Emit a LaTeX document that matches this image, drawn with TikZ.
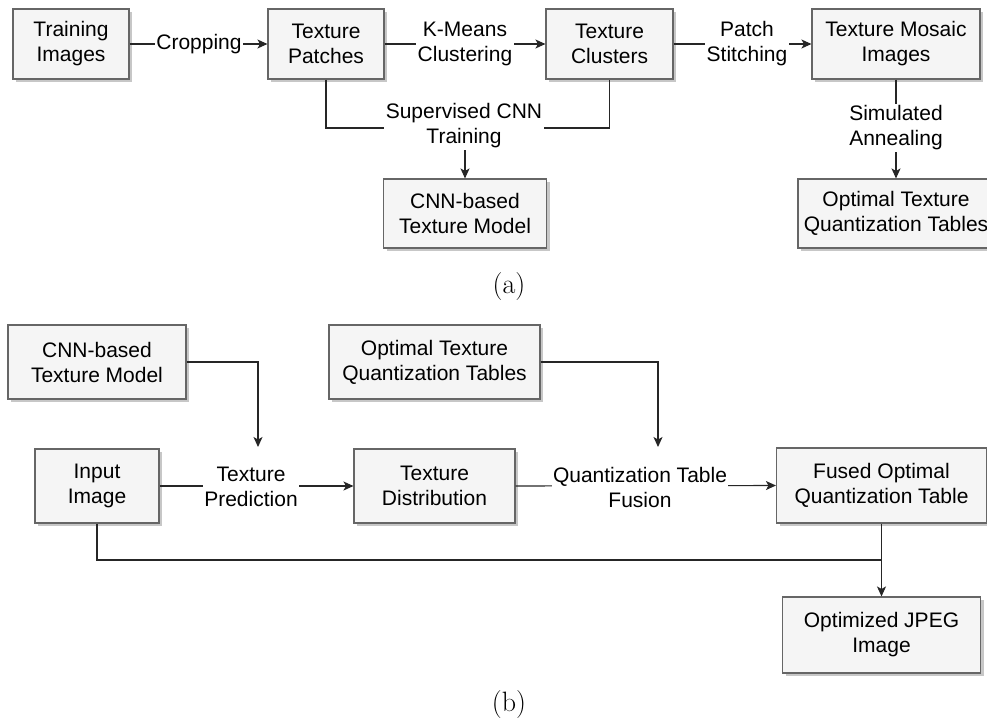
\documentclass[tikz,border=0pt]{standalone}
\usepackage{fontspec}
\setmainfont{Liberation Sans}
\newfontfamily\capfont{Latin Modern Roman}
\usetikzlibrary{arrows.meta,shadows}
\definecolor{boxfill}{HTML}{F5F5F5}
\definecolor{boxline}{HTML}{666666}
\begin{document}
\begin{tikzpicture}[x=1pt,y=-1pt,
  box/.style={draw=boxline, fill=boxfill, line width=1.1pt, align=center,
    font=\fontsize{21}{25}\selectfont, inner sep=2pt,
    drop shadow={shadow xshift=3pt, shadow yshift=-3pt, fill=black, opacity=0.22}},
  lbl/.style={fill=white, align=center, inner sep=1.5pt, font=\fontsize{21}{25}\selectfont},
  conn/.style={line width=1.1pt, draw=black!85},
  arr/.style={conn, -{Stealth[length=10pt,width=9pt,inset=2.5pt]}},
  captext/.style={font=\capfont\fontsize{28}{32}\selectfont}]
\useasboundingbox (0,0) rectangle (987,717);
\begin{scope}
\clip (0,0) rectangle (987,717);
% (a)
\node[box, minimum width=116pt, minimum height=70pt] (train) at (71,44) {Training\\Images};
\node[box, minimum width=116pt, minimum height=70pt] (patches) at (326,44) {Texture\\Patches};
\node[box, minimum width=127pt, minimum height=70pt] (clusters) at (609.5,44) {Texture\\Clusters};
\node[box, minimum width=168pt, minimum height=70pt] (mosaic) at (896,44) {Texture Mosaic\\Images};
\node[box, minimum width=163pt, minimum height=69pt] (cnnA) at (465,213.5) {CNN-based\\Texture Model};
\node[box, minimum width=196pt, minimum height=69pt] (optA) at (896,213.5) {Optimal Texture\\Quantization Tables};

\draw[arr] (train.east) -- (patches.west);
\draw[arr] (patches.east) -- (clusters.west);
\draw[arr] (clusters.east) -- (mosaic.west);
\coordinate (m) at (465,128);
\draw[conn] (patches.south) |- (m) -| (clusters.south);
\draw[arr] (m) -- (cnnA.north);
\draw[arr] (mosaic.south) -- (optA.north);

\node[lbl] (crop) at (199,44) {Cropping};
\node[lbl] (kmeans) at (465,44) {K-Means\\Clustering};
\node[lbl] (stitch) at (747,44) {Patch\\Stitching};
\node[lbl] (sup) at (464,126) {Supervised CNN\\Training};
\node[lbl] (anneal) at (896,128) {Simulated\\Annealing};

\node[captext] (capa) at (509,287) {(a)};

% (b)
\node[box, minimum width=178pt, minimum height=74pt] (cnnB) at (97,362) {CNN-based\\Texture Model};
\node[box, minimum width=211pt, minimum height=74pt] (optB) at (434.5,362) {Optimal Texture\\Quantization Tables};
\node[box, minimum width=124pt, minimum height=74pt] (input) at (97,486) {Input\\Image};
\node[box, minimum width=161pt, minimum height=74pt] (dist) at (434.5,486) {Texture\\Distribution};
\node[box, minimum width=210pt, minimum height=75pt] (fused) at (881.5,485.5) {Fused Optimal\\Quantization Table};
\node[box, minimum width=198pt, minimum height=76pt] (jpeg) at (881.5,635) {Optimized JPEG\\Image};

\coordinate (predTop) at (258,447);
\coordinate (fusTop) at (658,447);
\coordinate (j) at (881.5,560);
\draw[arr] (cnnB.east) -| (predTop);
\draw[arr] (optB.east) -| (fusTop);
\draw[arr] (input.east) -- (dist.west);
\draw[arr] (dist.east) -- (fused.west);
\draw[conn] (input.south) |- (j);
\draw[arr] (fused.south) -- (jpeg.north);

\node[lbl] (pred) at (251,487) {Texture\\Prediction};
\node[lbl] (fus) at (640,487) {Quantization Table\\Fusion};

\node[captext] (capb) at (509,705) {(b)};
\end{scope}
\end{tikzpicture}
\end{document}
